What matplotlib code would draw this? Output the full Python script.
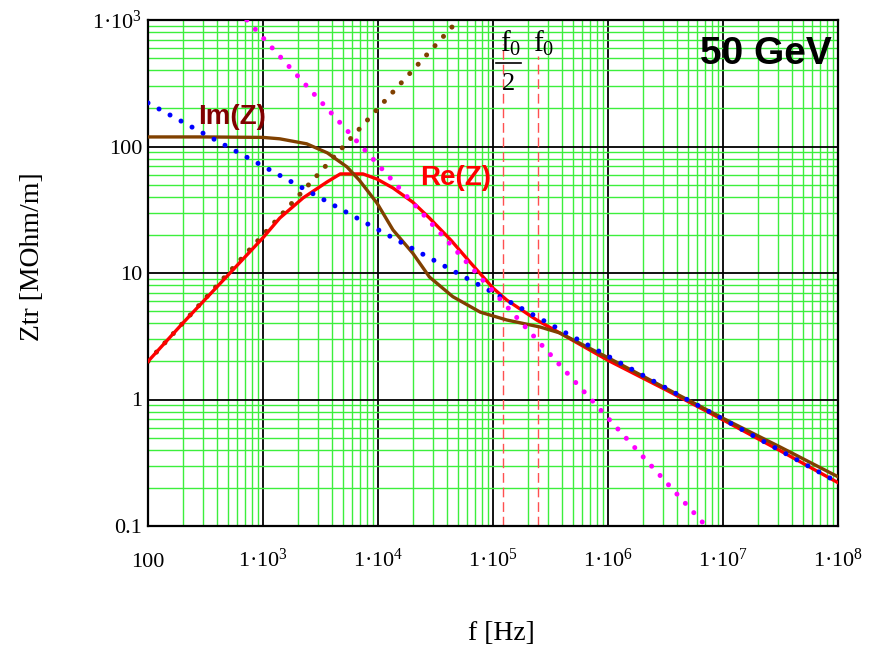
import matplotlib
matplotlib.use("Agg")
import matplotlib.pyplot as plt
from matplotlib.ticker import LogLocator, NullFormatter
import numpy as np

plt.rcParams.update({
    "font.family": ["Liberation Serif", "DejaVu Serif"],
    "mathtext.fontset": "custom",
    "mathtext.rm": "Liberation Serif",
    "mathtext.it": "Liberation Serif:italic",
    "mathtext.bf": "Liberation Serif:bold",
})

# --- datos (f en Hz, Z en MOhm/m) --------------------------------------------
f_re = [100, 200, 490, 1000, 1400, 2230, 3600, 4700, 7400, 9800, 13500, 20000,
        28000, 43000, 63000, 1e5, 1.32e5, 2.4e5, 3.8e5, 1e6, 3.2e6, 1e7, 3.2e7, 1e8]
z_re = [2.0, 4.0, 9.5, 19, 27.2, 39.2, 52.4, 60.7, 60.7, 55.3, 47.0, 36.4,
        27.2, 18.2, 12.2, 7.6, 6.1, 4.25, 3.36, 2.04, 1.19, 0.69, 0.39, 0.22]

f_im = [100, 316, 1000, 1400, 2400, 3630, 5370, 6900, 9800, 13500, 20000, 28000,
        44700, 77600, 1.32e5, 2.57e5, 3.8e5, 1e6, 3.16e6, 1e7, 3.16e7, 1e8]
z_im = [119, 119, 118, 115, 105, 89, 69, 54, 35.7, 21.9, 14.4, 9.3,
        6.5, 4.9, 4.25, 3.74, 3.36, 2.14, 1.23, 0.71, 0.42, 0.245]

# asintotas punteadas
f_hf = [100, 1e3, 1e4, 1e5, 1e6, 1e7, 1e8]
z_hf = [221, 70, 22, 7.0, 2.2, 0.70, 0.221]
f_mid = [724, 7.1e6]
z_mid = [1000, 0.1]
f_lf = [100, 5e4]
z_lf = [2.0, 1000]

f_marcas = [1.22e5, 2.44e5]  # f0/2 y f0

x_ticks = [1e2, 1e3, 1e4, 1e5, 1e6, 1e7, 1e8]
x_ticklabels = ["100", "1·10$^{3}$", "1·10$^{4}$", "1·10$^{5}$",
                "1·10$^{6}$", "1·10$^{7}$", "1·10$^{8}$"]
y_ticks = [0.1, 1, 10, 100, 1000]
y_ticklabels = ["0.1", "1", "10", "100", "1·10$^{3}$"]

MARRON = "#804000"

fig = plt.figure(figsize=(8.77, 6.47), dpi=100)
ax = fig.add_axes([148 / 877, 1 - 526 / 647, 690 / 877, 506 / 647])
ax.set_xscale("log")
ax.set_yscale("log")
ax.set_xlim(1e2, 1e8)
ax.set_ylim(0.1, 1000)

for eje in (ax.xaxis, ax.yaxis):
    eje.set_minor_locator(LogLocator(base=10, subs=np.arange(2, 10), numticks=100))
    eje.set_minor_formatter(NullFormatter())
ax.grid(which="minor", color="#3cef3c", lw=1.0)
ax.grid(which="major", color="black", lw=1.3)
ax.set_axisbelow(True)
for s in ax.spines.values():
    s.set_linewidth(1.6)

ax.set_xticks(x_ticks)
ax.set_xticklabels(x_ticklabels, va="baseline", fontsize=16)
ax.set_yticks(y_ticks)
ax.set_yticklabels(y_ticklabels, va="center_baseline", fontsize=16)
ax.tick_params(which="both", length=0)
ax.tick_params(axis="x", pad=29.5)
ax.tick_params(axis="y", pad=4)

punteado = dict(lw=3.6, ls=(0, (0.01, 2.5)), dash_capstyle="round")
ax.plot(f_lf, z_lf, color=MARRON, zorder=2, **punteado)
ax.plot(f_re, z_re, color="red", lw=2.4, zorder=3)
ax.plot(f_im, z_im, color=MARRON, lw=2.4, zorder=4)
ax.plot(f_hf, z_hf, color="blue", zorder=5, **punteado)
ax.plot(f_mid, z_mid, color="magenta", zorder=5, **punteado)

ax.vlines(f_marcas[0], 0.1, 650, color="#ff5050", lw=1, ls=(0, (7, 3.5)), zorder=2.5)
ax.vlines(f_marcas[1], 0.1, 520, color="#ff5050", lw=1, ls=(0, (7, 3.5)), zorder=2.5)

# etiquetas f0/2 y f0
ax.text(0.526, 0.953, r"$\mathrm{f}_0$", transform=ax.transAxes,
        ha="center", va="center", fontsize=21)
ax.plot([0.504, 0.541], [0.915, 0.915], transform=ax.transAxes,
        color="black", lw=1.2, clip_on=False)
ax.text(0.523, 0.874, "2", transform=ax.transAxes,
        ha="center", va="center", fontsize=19)
ax.text(0.574, 0.953, r"$\mathrm{f}_0$", transform=ax.transAxes,
        ha="center", va="center", fontsize=21)

negrita = dict(fontweight="bold", family="Liberation Sans", transform=ax.transAxes,
               va="center")
ax.text(0.991, 0.933, "50 GeV", ha="right", fontsize=28, color="black", **negrita)
ax.text(0.122, 0.808, "Im(Z)", ha="center", fontsize=20, color="#800000", **negrita)
ax.text(0.446, 0.688, "Re(Z)", ha="center", fontsize=20, color="red", **negrita)

fig.text(33 / 877, 1 - 257 / 647, "Ztr [MOhm/m]", rotation=90,
         ha="center", va="center", fontsize=20)
fig.text(501 / 877, 1 - 633 / 647, "f [Hz]", ha="center", va="center", fontsize=20)

fig.savefig("out.png", dpi=100)
